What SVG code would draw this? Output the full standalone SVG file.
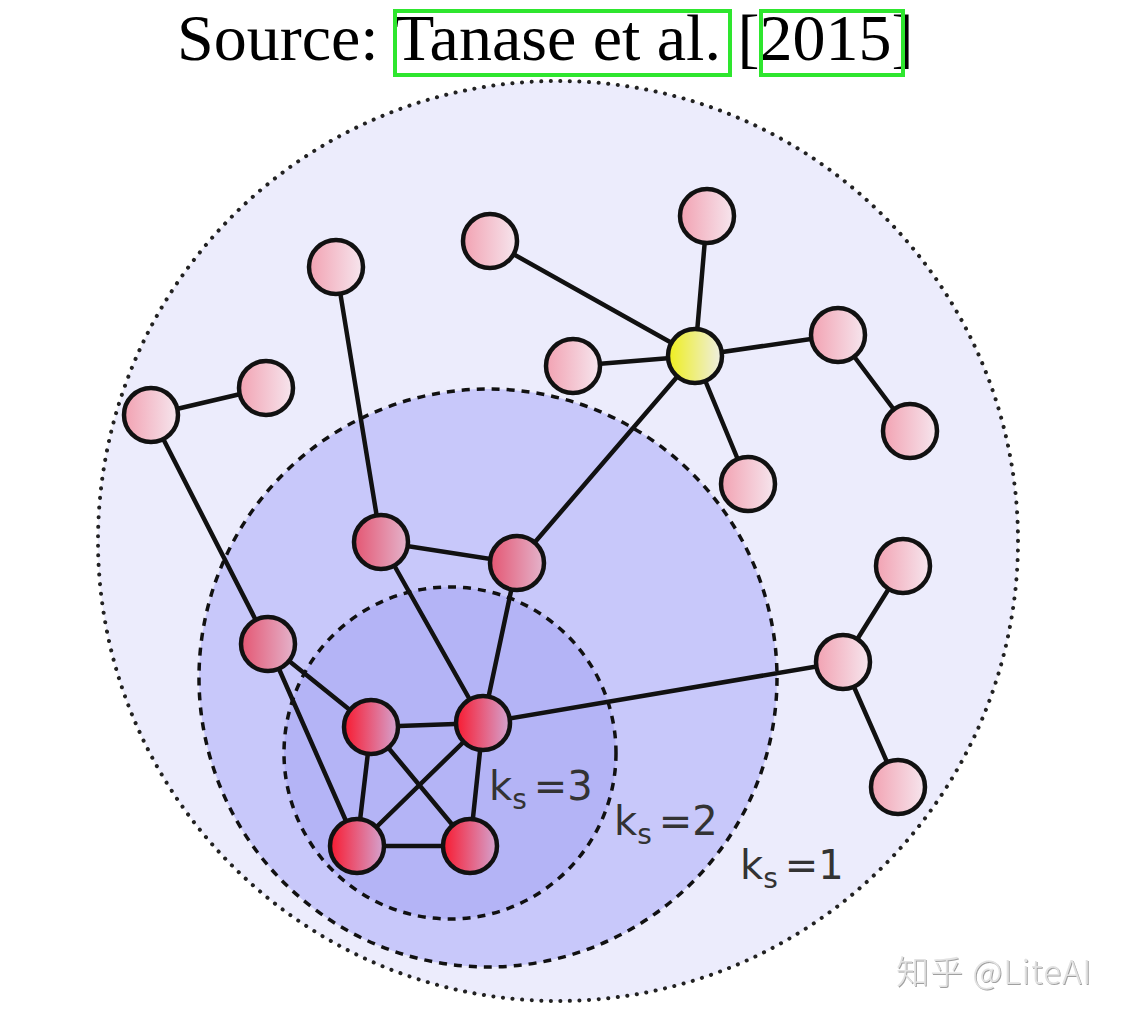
<svg xmlns="http://www.w3.org/2000/svg" width="1121" height="1019" viewBox="0 0 1121 1019">
<defs>
<linearGradient id="gOut" x1="0" y1="0" x2="1" y2="0"><stop offset="0" stop-color="#f2a2b2"/><stop offset="1" stop-color="#f6e6ee"/></linearGradient>
<linearGradient id="gMid" x1="0" y1="0" x2="1" y2="0"><stop offset="0" stop-color="#e45672"/><stop offset="1" stop-color="#e4b4cc"/></linearGradient>
<linearGradient id="gIn" x1="0" y1="0" x2="1" y2="0"><stop offset="0" stop-color="#f81a30"/><stop offset="1" stop-color="#d4a4d0"/></linearGradient>
<linearGradient id="gY" x1="0" y1="0" x2="1" y2="0"><stop offset="0" stop-color="#eeee1c"/><stop offset="1" stop-color="#eeeee4"/></linearGradient>
<filter id="sh" x="-10%" y="-20%" width="120%" height="140%"><feDropShadow dx="1" dy="1" stdDeviation="0.6" flood-color="#888" flood-opacity="0.8"/></filter>
</defs>
<style>
.node{stroke:#111;stroke-width:4.5}
.edge{stroke:#111;stroke-width:4.5;fill:none;stroke-linecap:round}
.lbl{font-family:"DejaVu Sans",sans-serif;fill:#333}
.title{font-family:"Liberation Serif",serif;font-size:66px;fill:#000}
.box{fill:none;stroke:#2ee62e;stroke-width:4}
</style>
<rect width="1121" height="1019" fill="#ffffff"/>
<g id="title">
<text class="title" x="177" y="60">Source: Tanase et al. [2015]</text>
<rect class="box" x="395" y="11" width="335" height="64"/>
<rect class="box" x="761" y="11" width="142" height="64"/>
</g>
<g id="shells">
<circle id="shell1" cx="558" cy="541" r="460" fill="#ececfc" stroke="#222" stroke-width="4" stroke-dasharray="0.1 9.5" stroke-linecap="round"/>
<circle id="shell2" cx="488" cy="678" r="289" fill="#c8c8fa" stroke="#111" stroke-width="3.5" stroke-dasharray="8 7"/>
<circle id="shell3" cx="450" cy="753" r="166" fill="#b4b4f6" stroke="#111" stroke-width="3.5" stroke-dasharray="8 7"/>
</g>
<g id="connectors">
<line class="edge" x1="151" y1="415" x2="266" y2="388"/>
<line class="edge" x1="151" y1="415" x2="268" y2="644"/>
<line class="edge" x1="336" y1="267" x2="381" y2="542"/>
<line class="edge" x1="490" y1="241" x2="695" y2="356"/>
<line class="edge" x1="707" y1="216" x2="695" y2="356"/>
<line class="edge" x1="573" y1="366" x2="695" y2="356"/>
<line class="edge" x1="695" y1="356" x2="838" y2="335"/>
<line class="edge" x1="838" y1="335" x2="910" y2="431"/>
<line class="edge" x1="695" y1="356" x2="748" y2="484"/>
<line class="edge" x1="695" y1="356" x2="517" y2="563"/>
<line class="edge" x1="381" y1="542" x2="517" y2="563"/>
<line class="edge" x1="381" y1="542" x2="483" y2="723"/>
<line class="edge" x1="517" y1="563" x2="483" y2="723"/>
<line class="edge" x1="268" y1="644" x2="371" y2="727"/>
<line class="edge" x1="268" y1="644" x2="357" y2="846"/>
<line class="edge" x1="371" y1="727" x2="483" y2="723"/>
<line class="edge" x1="371" y1="727" x2="357" y2="846"/>
<line class="edge" x1="371" y1="727" x2="470" y2="846"/>
<line class="edge" x1="483" y1="723" x2="357" y2="846"/>
<line class="edge" x1="483" y1="723" x2="470" y2="846"/>
<line class="edge" x1="357" y1="846" x2="470" y2="846"/>
<line class="edge" x1="483" y1="723" x2="843" y2="662"/>
<line class="edge" x1="843" y1="662" x2="903" y2="566"/>
<line class="edge" x1="843" y1="662" x2="898" y2="787"/>
</g>
<g id="nodes">
<g id="n1"><circle class="node" cx="336" cy="267" r="27" fill="url(#gOut)"/></g>
<g id="n2"><circle class="node" cx="490" cy="241" r="27" fill="url(#gOut)"/></g>
<g id="n3"><circle class="node" cx="707" cy="216" r="27" fill="url(#gOut)"/></g>
<g id="n4"><circle class="node" cx="266" cy="388" r="27" fill="url(#gOut)"/></g>
<g id="n5"><circle class="node" cx="151" cy="415" r="27" fill="url(#gOut)"/></g>
<g id="n6"><circle class="node" cx="573" cy="366" r="27" fill="url(#gOut)"/></g>
<g id="n7"><circle class="node" cx="838" cy="335" r="27" fill="url(#gOut)"/></g>
<g id="n8"><circle class="node" cx="910" cy="431" r="27" fill="url(#gOut)"/></g>
<g id="n9"><circle class="node" cx="748" cy="484" r="27" fill="url(#gOut)"/></g>
<g id="n10"><circle class="node" cx="903" cy="566" r="27" fill="url(#gOut)"/></g>
<g id="n11"><circle class="node" cx="843" cy="662" r="27" fill="url(#gOut)"/></g>
<g id="n12"><circle class="node" cx="898" cy="787" r="27" fill="url(#gOut)"/></g>
<g id="hub"><circle class="node" cx="695" cy="356" r="27" fill="url(#gY)"/></g>
<g id="m1"><circle class="node" cx="381" cy="542" r="27" fill="url(#gMid)"/></g>
<g id="m2"><circle class="node" cx="517" cy="563" r="27" fill="url(#gMid)"/></g>
<g id="m3"><circle class="node" cx="268" cy="644" r="27" fill="url(#gMid)"/></g>
<g id="c1"><circle class="node" cx="371" cy="727" r="27" fill="url(#gIn)"/></g>
<g id="c2"><circle class="node" cx="483" cy="723" r="27" fill="url(#gIn)"/></g>
<g id="c3"><circle class="node" cx="357" cy="846" r="27" fill="url(#gIn)"/></g>
<g id="c4"><circle class="node" cx="470" cy="846" r="27" fill="url(#gIn)"/></g>
</g>
<g id="labels">
<text class="lbl" x="489" y="800" font-size="40">k<tspan font-size="28" dy="9">s</tspan><tspan dy="-9" dx="7">=3</tspan></text>
<text class="lbl" x="614" y="835" font-size="40">k<tspan font-size="28" dy="9">s</tspan><tspan dy="-9" dx="7">=2</tspan></text>
<text class="lbl" x="740" y="879" font-size="40">k<tspan font-size="28" dy="9">s</tspan><tspan dy="-9" dx="7">=1</tspan></text>
</g>
<g id="watermark">
<text x="896" y="984" font-family="'Noto Sans CJK SC',sans-serif" font-size="33" font-weight="300" letter-spacing="1" fill="#e2e2e2" filter="url(#sh)">知乎 @LiteAI</text>
</g>
</svg>
